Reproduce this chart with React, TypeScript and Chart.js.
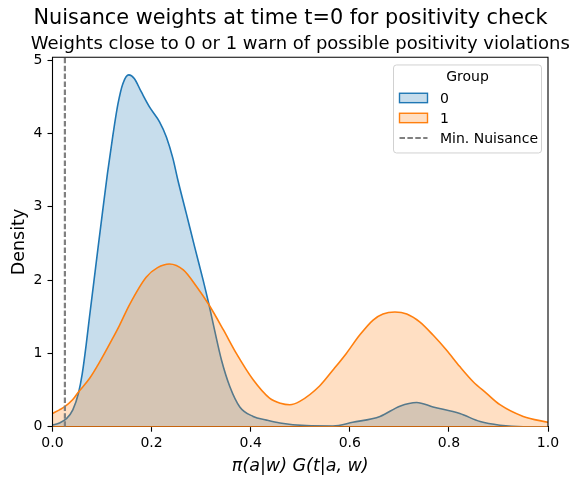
import React, { useEffect, useRef } from "react";
import { Chart, registerables } from "chart.js";

Chart.register(...registerables);

// ---- data ----
const group0X = [0.0, 0.014, 0.028, 0.041, 0.0525, 0.06, 0.068, 0.0747, 0.0835, 0.0915, 0.101, 0.111, 0.122, 0.132, 0.142, 0.154, 0.165, 0.179, 0.196, 0.216, 0.23, 0.243, 0.2525, 0.27, 0.287, 0.304, 0.316, 0.327, 0.341, 0.358, 0.378, 0.405, 0.432, 0.459, 0.512, 0.566, 0.606, 0.661, 0.701, 0.735, 0.768, 0.822, 0.863, 0.903, 0.95, 1.0];
const group0Y = [0.02, 0.05, 0.11, 0.23, 0.46, 0.72, 1.12, 1.5, 1.98, 2.42, 2.93, 3.46, 3.98, 4.4, 4.68, 4.8, 4.75, 4.57, 4.36, 4.16, 3.95, 3.66, 3.38, 2.91, 2.45, 2.0, 1.66, 1.32, 0.91, 0.545, 0.27, 0.14, 0.09, 0.05, 0.015, 0.01, 0.06, 0.14, 0.28, 0.33, 0.27, 0.18, 0.07, 0.02, 0.0, 0.0];

const group1X = [0.0, 0.014, 0.024, 0.041, 0.052, 0.075, 0.095, 0.121, 0.135, 0.155, 0.189, 0.212, 0.236, 0.264, 0.291, 0.316, 0.345, 0.371, 0.405, 0.438, 0.46, 0.479, 0.499, 0.539, 0.566, 0.593, 0.62, 0.647, 0.667, 0.691, 0.715, 0.741, 0.768, 0.795, 0.822, 0.849, 0.876, 0.903, 0.95, 1.0];
const group1Y = [0.18, 0.23, 0.27, 0.37, 0.47, 0.66, 0.88, 1.2, 1.38, 1.66, 2.04, 2.17, 2.22, 2.14, 1.91, 1.66, 1.32, 1.0, 0.64, 0.39, 0.32, 0.3, 0.345, 0.555, 0.773, 1.0, 1.25, 1.455, 1.537, 1.564, 1.537, 1.43, 1.25, 1.046, 0.82, 0.614, 0.455, 0.3, 0.14, 0.06];

const minNuisance = 0.025;
const xTicks = [0, 0.2, 0.4, 0.6, 0.8, 1.0];
const yTicks = [0, 1, 2, 3, 4, 5];
const xRange = [0, 1];
const yRange = [0, 5.04];

const titleText = "Nuisance weights at time t=0 for positivity check";
const subtitleText = "Weights close to 0 or 1 warn of possible positivity violations";
const xLabel = "π(a|w) G(t|a, w)";
const yLabel = "Density";
const legendTitle = "Group";
const groupLabels = ["0", "1"];
const minLabel = "Min. Nuisance";

const BLUE = "#1f77b4";
const ORANGE = "#ff7f0e";
const BLUE_FILL = "rgba(31,119,180,0.25)";
const ORANGE_FILL = "rgba(255,127,14,0.25)";
const GRAY = "#808080";
const FONT = '"DejaVu Sans", sans-serif';

const toPoints = (xs: number[], ys: number[]) => xs.map((x, i) => ({ x, y: ys[i] }));

const framePlugin = {
  id: "frame",
  afterDatasetsDraw(chart: any) {
    const { ctx, chartArea: a } = chart;
    ctx.save();
    ctx.strokeStyle = "#000";
    ctx.lineWidth = 1.1;
    ctx.beginPath();
    ctx.moveTo(a.left, a.bottom);
    ctx.lineTo(a.left, a.top);
    ctx.lineTo(a.right, a.top);
    ctx.lineTo(a.right, a.bottom);
    ctx.stroke();
    ctx.restore();
  },
};

// axes title (centred on the plotting area, allowed to overflow it)
const subtitlePlugin = {
  id: "axesTitle",
  afterDraw(chart: any) {
    const { ctx, chartArea: a } = chart;
    ctx.save();
    ctx.font = `18px ${FONT}`;
    ctx.fillStyle = "#000";
    ctx.textAlign = "center";
    ctx.textBaseline = "middle";
    ctx.fillText(subtitleText, (a.left + a.right) / 2, a.top - 13.3);
    ctx.restore();
  },
};

const legendPlugin = {
  id: "customLegend",
  afterDraw(chart: any) {
    const { ctx, chartArea: a } = chart;
    const w = 148;
    const h = 88;
    const x = a.right - 6.5 - w;
    const y = a.top + 7.7;
    ctx.save();
    ctx.beginPath();
    ctx.roundRect(x, y, w, h, 3);
    ctx.fillStyle = "rgba(255,255,255,0.8)";
    ctx.fill();
    ctx.strokeStyle = "rgba(204,204,204,0.9)";
    ctx.lineWidth = 1;
    ctx.stroke();

    ctx.font = `14px ${FONT}`;
    ctx.fillStyle = "#000";
    ctx.textBaseline = "middle";
    ctx.textAlign = "center";
    ctx.fillText(legendTitle, x + w / 2, y + 12);

    ctx.textAlign = "left";
    const rows = [y + 33, y + 53, y + 73];
    const fills = [BLUE_FILL, ORANGE_FILL];
    const edges = [BLUE, ORANGE];
    for (let i = 0; i < 2; i++) {
      ctx.fillStyle = fills[i];
      ctx.fillRect(x + 6, rows[i] - 4.7, 28, 9.4);
      ctx.strokeStyle = edges[i];
      ctx.lineWidth = 1.4;
      ctx.strokeRect(x + 6, rows[i] - 4.7, 28, 9.4);
      ctx.fillStyle = "#000";
      ctx.fillText(groupLabels[i], x + 46.5, rows[i] + 1);
    }
    ctx.strokeStyle = GRAY;
    ctx.lineWidth = 2;
    ctx.setLineDash([5.5, 2.4]);
    ctx.beginPath();
    ctx.moveTo(x + 6, rows[2]);
    ctx.lineTo(x + 34, rows[2]);
    ctx.stroke();
    ctx.setLineDash([]);
    ctx.fillStyle = "#000";
    ctx.fillText(minLabel, x + 46.5, rows[2] + 1);
    ctx.restore();
  },
};

export default function App() {
  const ref = useRef<HTMLCanvasElement | null>(null);

  useEffect(() => {
    if (!ref.current) return;
    const chart = new Chart(ref.current, {
      type: "line",
      data: {
        datasets: [
          {
            label: groupLabels[0],
            data: toPoints(group0X, group0Y),
            borderColor: BLUE,
            backgroundColor: BLUE_FILL,
            borderWidth: 1.6,
            fill: "origin",
            pointRadius: 0,
            cubicInterpolationMode: "monotone",
            order: 3,
          },
          {
            label: groupLabels[1],
            data: toPoints(group1X, group1Y),
            borderColor: ORANGE,
            backgroundColor: ORANGE_FILL,
            borderWidth: 1.6,
            fill: "origin",
            pointRadius: 0,
            cubicInterpolationMode: "monotone",
            order: 2,
          },
          {
            label: "base",
            data: [
              { x: xRange[0], y: 0 },
              { x: xRange[1], y: 0 },
            ],
            borderColor: ORANGE,
            borderWidth: 1.6,
            fill: false,
            pointRadius: 0,
            order: 1,
          },
          {
            label: minLabel,
            data: [
              { x: minNuisance, y: yRange[0] },
              { x: minNuisance, y: yRange[1] },
            ],
            borderColor: GRAY,
            borderWidth: 2.2,
            borderDash: [5.5, 2.4],
            fill: false,
            pointRadius: 0,
            order: 0,
          },
        ],
      },
      options: {
        animation: false,
        responsive: true,
        maintainAspectRatio: false,
        layout: { padding: 0 },
        plugins: {
          legend: { display: false },
          tooltip: { enabled: false },
          filler: { drawTime: "beforeDatasetDraw" },
          title: {
            display: true,
            text: titleText,
            color: "#000",
            font: { family: FONT, size: 20.8, weight: "normal" },
            padding: { top: 6, bottom: 26.3 },
          },
          subtitle: { display: false },
        },
        scales: {
          x: {
            type: "linear",
            min: xRange[0],
            max: xRange[1],
            afterBuildTicks: (s: any) => {
              s.ticks = xTicks.map((v) => ({ value: v }));
            },
            afterFit: (s: any) => {
              s.height = 61.3;
            },
            ticks: {
              color: "#000",
              font: { family: FONT, size: 14 },
              padding: 3,
              maxRotation: 0,
              autoSkip: false,
              callback: (v: any) => Number(v).toFixed(1),
            },
            grid: {
              display: true,
              drawOnChartArea: false,
              drawTicks: true,
              tickLength: 5,
              tickColor: "#000",
              tickWidth: 1.1,
            },
            border: { display: true, color: "#000", width: 1.1 },
            title: {
              display: true,
              text: xLabel,
              color: "#000",
              font: { family: FONT, size: 17.5, style: "italic" },
              padding: { top: 0, bottom: 11 },
            },
          },
          y: {
            type: "linear",
            min: yRange[0],
            max: yRange[1],
            afterBuildTicks: (s: any) => {
              s.ticks = yTicks.map((v) => ({ value: v }));
            },
            afterFit: (s: any) => {
              s.width = 52.5;
            },
            ticks: {
              color: "#000",
              font: { family: FONT, size: 14 },
              padding: 5,
              autoSkip: false,
              callback: (v: any) => String(v),
            },
            grid: {
              display: true,
              drawOnChartArea: false,
              drawTicks: true,
              tickLength: 5,
              tickColor: "#000",
              tickWidth: 1.1,
            },
            border: { display: false },
            title: {
              display: true,
              text: yLabel,
              color: "#000",
              font: { family: FONT, size: 17.5 },
              padding: { top: 9, bottom: 0 },
            },
          },
          spacer: {
            type: "linear",
            position: "right",
            display: true,
            afterFit: (s: any) => {
              s.width = 33;
            },
            ticks: { display: false },
            grid: { display: false, drawTicks: false },
            border: { display: false },
            title: { display: false },
          },
        },
      },
      plugins: [framePlugin, subtitlePlugin, legendPlugin],
    } as any);
    return () => chart.destroy();
  }, []);

  return (
    <div style={{ position: "absolute", left: 0, top: 0, width: 581, height: 488, background: "#fff" }}>
      <canvas ref={ref} />
    </div>
  );
}
